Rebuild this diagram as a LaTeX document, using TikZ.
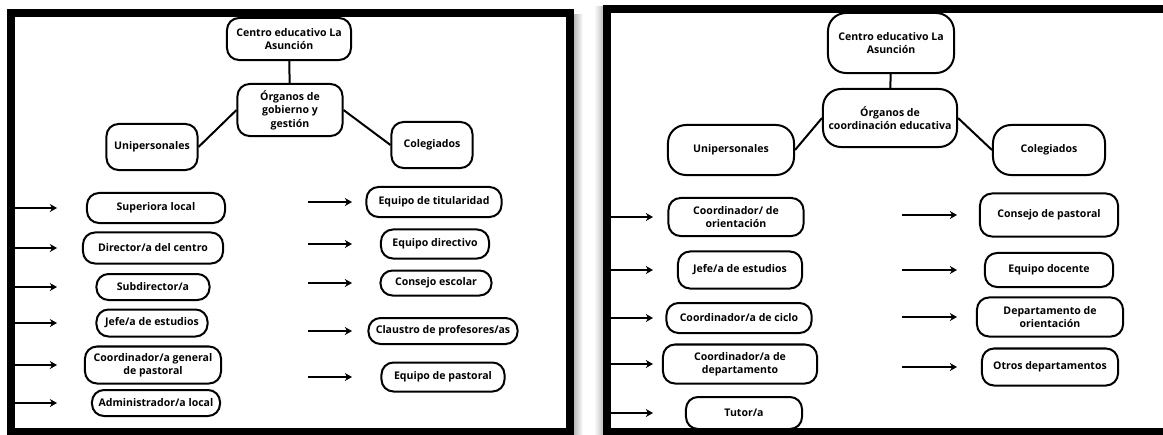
\documentclass[tikz,border=0pt]{standalone}
\usepackage{fontspec}
\setmainfont{Open Sans}
\usetikzlibrary{arrows.meta}

\begin{document}
\begin{tikzpicture}[x=0.025cm, y=-0.025cm,
    box/.style={draw=black, fill=white, line width=0.5mm, rounded corners=0.3cm, align=center, inner sep=0pt,
      font=\fontsize{7.5}{9.5}\selectfont\bfseries},
    bigbox/.style={box, rounded corners=0.45cm},
    link/.style={line width=0.5mm},
    arr/.style={-{Stealth[length=1.8mm, width=2mm]}, line width=0.5mm},
    frame/.style={line width=2mm}]
      \useasboundingbox[fill=white] (0, 0) rectangle (1163, 434);

      % shadows and frames
      \shade[left color=gray!55, right color=white] (574, 14) rectangle (583, 434);
      \shade[left color=white, right color=gray!50] (594, 6) rectangle (603, 434);
      \draw[frame] (11, 13) rectangle (570, 432);
      \draw[frame] (607, 9) rectangle (1175, 432);

      % left panel
      \node[box, minimum width=3.1cm, minimum height=1.05cm] (centroA) at (289, 39) {Centro educativo La\\Asunción};
      \node[box, minimum width=2.625cm, minimum height=1.3cm] (organosA) at (290, 110) {Órganos de\\gobierno y\\gestión};
      \node[box, minimum width=2.275cm, minimum height=1.15cm] (uniA) at (152, 147) {Unipersonales};
      \node[box, minimum width=2.025cm, minimum height=1.15cm] (colA) at (432, 145) {Colegiados};

      \draw[link] (centroA) -- (organosA);
      \draw[link] (organosA.west) -- (uniA.east);
      \draw[link] (organosA.east) -- (colA.west);

      \node[box, minimum width=3.45cm, minimum height=0.75cm] (superiora) at (156, 208) {Superiora local};
      \node[box, minimum width=3.5cm, minimum height=0.775cm] (director) at (153, 248) {Director/a del centro};
      \node[box, minimum width=2.825cm, minimum height=0.65cm] (subdirector) at (153, 287) {Subdirector/a};
      \node[box, minimum width=2.775cm, minimum height=0.675cm] (jefeA) at (152, 323) {Jefe/a de estudios};
      \node[box, minimum width=3.4cm, minimum height=0.925cm] (coordgen) at (153, 365) {Coordinador/a general\\de pastoral};
      \node[box, minimum width=3.2cm, minimum height=0.65cm] (admin) at (156, 403) {Administrador/a local};

      \node[box, minimum width=3.375cm, minimum height=0.75cm] (titularidad) at (434, 202) {Equipo de titularidad};
      \node[box, minimum width=2.7cm, minimum height=0.725cm] (directivo) at (435, 244) {Equipo directivo};
      \node[box, minimum width=2.775cm, minimum height=0.625cm] (escolar) at (436, 283) {Consejo escolar};
      \node[box, minimum width=3.725cm, minimum height=0.65cm] (claustro) at (443, 331) {Claustro de profesores/as};
      \node[box, minimum width=3.075cm, minimum height=0.725cm] (pastoralA) at (443, 377) {Equipo de pastoral};

      \coordinate (tailA) at (13, 0);
      \coordinate (headA) at (57, 0);
      \coordinate (tailC) at (308, 0);
      \coordinate (headC) at (352, 0);
      \foreach \n in {superiora, director, subdirector, jefeA, coordgen, admin}
        \draw[arr] (tailA |- \n) -- (headA |- \n);
      \foreach \n in {titularidad, directivo, escolar, claustro, pastoralA}
        \draw[arr] (tailC |- \n) -- (headC |- \n);

      % right panel
      \node[bigbox, minimum width=3.15cm, minimum height=1.5cm] (centroB) at (891, 43) {Centro educativo La\\Asunción};
      \node[bigbox, minimum width=3.35cm, minimum height=1.45cm] (organosB) at (890, 118) {Órganos de\\coordinación educativa};
      \node[bigbox, minimum width=3.15cm, minimum height=1.25cm] (uniB) at (731, 150) {Unipersonales};
      \node[bigbox, minimum width=2.8cm, minimum height=1.25cm] (colB) at (1049, 150) {Colegiados};

      \draw[link] (centroB) -- (organosB);
      \draw[link] (organosB.west) -- (uniB.east);
      \draw[link] (organosB.east) -- (colB.west);

      \node[box, minimum width=3.375cm, minimum height=0.95cm] (coordori) at (736, 217) {Coordinador/ de\\orientación};
      \node[box, minimum width=3.1cm, minimum height=0.925cm] (jefeB) at (740, 270) {Jefe/a de estudios};
      \node[box, minimum width=3.625cm, minimum height=0.75cm] (ciclo) at (739, 318) {Coordinador/a de ciclo};
      \node[box, minimum width=3.85cm, minimum height=0.975cm] (depto) at (740, 364) {Coordinador/a de\\departamento};
      \node[box, minimum width=2.9cm, minimum height=0.8cm] (tutor) at (744, 413) {Tutor/a};

      \node[box, minimum width=3.45cm, minimum height=1.075cm] (pastoralB) at (1049, 215) {Consejo de pastoral};
      \node[box, minimum width=3.2cm, minimum height=0.85cm] (docente) at (1049, 270) {Equipo docente};
      \node[box, minimum width=3.65cm, minimum height=0.975cm] (deptori) at (1050, 317) {Departamento de\\orientación};
      \node[box, minimum width=3.4cm, minimum height=0.925cm] (otros) at (1050, 367) {Otros departamentos};

      \coordinate (tailB) at (609, 0);
      \coordinate (headB) at (653, 0);
      \coordinate (tailD) at (902, 0);
      \coordinate (headD) at (957, 0);
      \foreach \n in {coordori, jefeB, ciclo, depto, tutor}
        \draw[arr] (tailB |- \n) -- (headB |- \n);
      \foreach \n in {pastoralB, docente, deptori, otros}
        \draw[arr] (tailD |- \n) -- (headD |- \n);

    \end{tikzpicture}
\end{document}
